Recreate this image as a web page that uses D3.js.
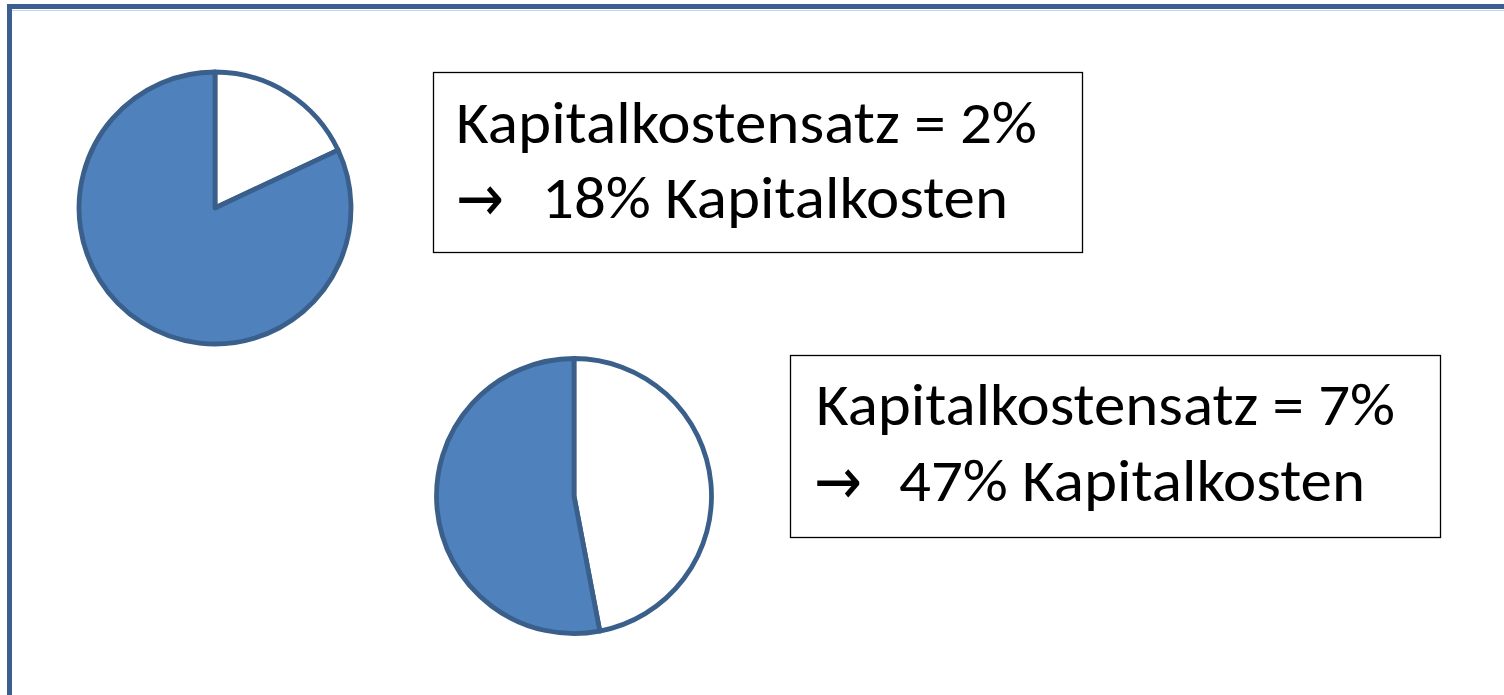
<!DOCTYPE html>
<html>
<head>
<meta charset="utf-8">
<script src="https://cdn.jsdelivr.net/npm/d3@7"></script>
<style>
  html, body { margin: 0; padding: 0; background: #fff; }
  svg { display: block; }
</style>
</head>
<body>
<svg id="chart" width="1504" height="695"></svg>
<script>
// Interest rate scenarios and the resulting share of capital costs
const rateLabels = ["Kapitalkostensatz = 2%", "Kapitalkostensatz = 7%"];
const costLabels = ["18% Kapitalkosten", "47% Kapitalkosten"];
const capitalCostShare = [18, 47];
const remainingShare = [82, 53];

const svg = d3.select("#chart");
const W = 1504, H = 695;

const frameColor = "#3B5F8E";
const sliceStroke = "#3A5F8B";
const blue = "#4F81BD";

// outer frame (open to the right and bottom)
svg.append("line").attr("x1", 7).attr("x2", W).attr("y1", 10.5).attr("y2", 10.5)
  .attr("stroke", "#C9D6EA").attr("stroke-width", 1.2);
svg.append("rect")
  .attr("x", 9.5).attr("y", 6.5).attr("width", W + 40).attr("height", H + 40)
  .attr("fill", "none").attr("stroke", frameColor).attr("stroke-width", 5);

// layout of each panel: pie + annotation box
const panels = [
  { cx: 215, cy: 208, r: 136, box: { x: 433, y: 72, w: 649, h: 180 },
    l1: { x: 456, y: 143, len: 581 }, arrowX: 456, l2: { x: 542, y: 218, len: 466 } },
  { cx: 574, cy: 496, r: 137.5, box: { x: 790, y: 355, w: 650, h: 182 },
    l1: { x: 816, y: 425, len: 579 }, arrowX: 814, l2: { x: 899, y: 501, len: 466 } }
];

const pie = d3.pie().sort(null).startAngle(0).endAngle(2 * Math.PI);
const fills = ["#ffffff", blue];
const font = "Carlito, Calibri, Lato, 'Open Sans', sans-serif";

panels.forEach((p, i) => {
  const arcs = pie([capitalCostShare[i], remainingShare[i]]);
  const arc = d3.arc().innerRadius(0).outerRadius(p.r);
  const g = svg.append("g").attr("transform", `translate(${p.cx},${p.cy})`);
  g.selectAll("path").data(arcs).join("path")
    .attr("d", arc)
    .attr("fill", (d, j) => fills[j])
    .attr("stroke", sliceStroke)
    .attr("stroke-width", 4.8)
    .attr("stroke-linejoin", "round");

  svg.append("rect")
    .attr("x", p.box.x + 0.5).attr("y", p.box.y + 0.5)
    .attr("width", p.box.w).attr("height", p.box.h)
    .attr("fill", "#fff").attr("stroke", "#000").attr("stroke-width", 1.3);

  svg.append("text")
    .attr("x", p.l1.x).attr("y", p.l1.y)
    .attr("font-family", font).attr("font-size", 59)
    .attr("textLength", p.l1.len).attr("lengthAdjust", "spacingAndGlyphs")
    .attr("fill", "#000")
    .text(rateLabels[i]);

  svg.append("text")
    .attr("x", p.arrowX).attr("y", p.l2.y + 3)
    .attr("font-family", "'DejaVu Sans', sans-serif")
    .attr("font-size", 66)
    .attr("textLength", 48).attr("lengthAdjust", "spacingAndGlyphs")
    .attr("fill", "#000")
    .text("\u2192");

  svg.append("text")
    .attr("x", p.l2.x).attr("y", p.l2.y)
    .attr("font-family", font).attr("font-size", 59)
    .attr("textLength", p.l2.len).attr("lengthAdjust", "spacingAndGlyphs")
    .attr("fill", "#000")
    .text(costLabels[i]);
});
</script>
</body>
</html>
